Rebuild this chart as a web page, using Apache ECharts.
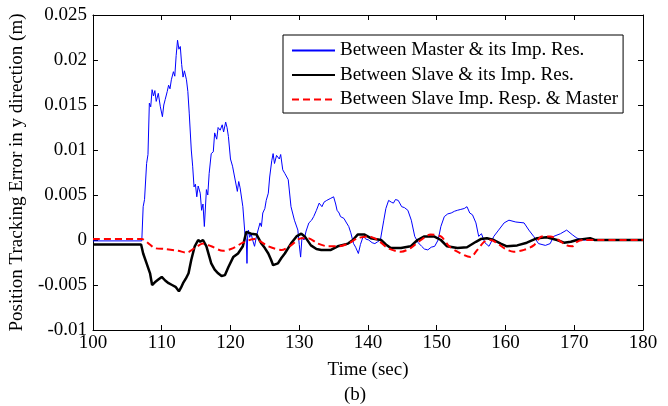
<!DOCTYPE html>
<html>
<head>
<meta charset="utf-8">
<script src="https://cdn.jsdelivr.net/npm/echarts@6/dist/echarts.min.js"></script>
<style>
html,body{margin:0;padding:0;background:#fff;}
#c{width:668px;height:406px;}
</style>
</head>
<body>
<div id="c"></div>
<script>
var xTicks = [100, 110, 120, 130, 140, 150, 160, 170, 180];
var yTicks = [-0.01, -0.005, 0, 0.005, 0.01, 0.015, 0.02, 0.025];
var seriesNames = ['Between Master & its Imp. Res.', 'Between Slave & its Imp. Res.', 'Between Slave Imp. Resp. & Master'];

var masterErr = [
[100,-0.0001],[107.1,-0.0001],[107.3,0.0037],[107.5,0.0045],[107.8,0.0085],[108.0,0.0095],[108.2,0.0152],[108.4,0.0148],[108.6,0.0167],[108.8,0.0160],[109.0,0.0166],[109.2,0.0154],[109.5,0.0163],[109.8,0.0148],[110.1,0.0137],[110.3,0.0150],[110.5,0.0156],[110.8,0.0165],[111.0,0.0172],[111.2,0.0168],[111.4,0.0178],[111.7,0.0187],[111.9,0.0182],[112.1,0.0205],[112.3,0.0222],[112.5,0.0212],[112.7,0.0215],[112.9,0.0195],[113.1,0.0181],[113.3,0.0188],[113.6,0.0178],[113.8,0.0165],[114.0,0.0141],[114.3,0.0100],[114.5,0.0082],[114.7,0.0059],[114.9,0.0062],[115.1,0.0048],[115.3,0.0060],[115.6,0.0052],[115.8,0.0033],[116.0,0.0040],[116.2,0.0015],[116.5,0.0056],[116.7,0.0050],[116.9,0.0074],[117.2,0.0096],[117.5,0.0098],[117.7,0.0119],[118.0,0.0112],[118.2,0.0125],[118.5,0.0122],[118.8,0.0128],[119.0,0.0120],[119.3,0.0131],[119.5,0.0125],[119.7,0.0115],[120.0,0.0090],[120.3,0.0082],[120.6,0.0070],[120.8,0.0068],[121.0,0.0054],[121.2,0.0065],[121.4,0.0058],[121.8,0.0037],[122.1,0.0007],[122.3,0.0000],[122.4,-0.0026],[122.5,0.0005],[122.6,0.0011],[122.8,0.0003],[123.0,0.0007],[123.3,-0.0002],[123.5,-0.0007],[123.8,0.0005],[124.3,0.0019],[124.5,0.0015],[124.7,0.0030],[125.0,0.0035],[125.2,0.0044],[125.5,0.0052],[125.7,0.0070],[126.0,0.0088],[126.2,0.0096],[126.4,0.0085],[126.7,0.0094],[126.9,0.0093],[127.1,0.0090],[127.3,0.0095],[127.6,0.0078],[127.9,0.0074],[128.4,0.0067],[128.8,0.0037],[129.3,0.0022],[129.8,0.0011],[130.0,-0.0005],[130.2,-0.0019],[130.4,0.0003],[130.7,0.0000],[131.0,0.0010],[131.4,0.0019],[131.8,0.0022],[132.1,0.0026],[132.5,0.0033],[132.9,0.0041],[133.3,0.0037],[133.6,0.0042],[134.0,0.0044],[134.5,0.0046],[135.0,0.0048],[135.3,0.0040],[135.5,0.0033],[135.8,0.0030],[136.0,0.0026],[136.5,0.0024],[136.8,0.0020],[137.2,0.0015],[137.5,0.0008],[137.9,-0.0004],[138.2,-0.0008],[138.6,-0.0015],[138.9,-0.0005],[139.3,0.0004],[139.7,0.0001],[140.1,0.0000],[140.6,-0.0003],[141.0,-0.0004],[141.4,-0.0002],[141.8,0.0000],[142.3,0.0022],[142.6,0.0035],[143.0,0.0044],[143.4,0.0042],[143.7,0.0041],[144.0,0.0045],[144.4,0.0044],[144.9,0.0037],[145.3,0.0036],[145.8,0.0033],[146.3,0.0022],[146.8,0.0004],[147.3,-0.0003],[147.8,-0.0007],[148.2,-0.0010],[148.7,-0.0011],[149.2,-0.0008],[149.7,-0.0007],[150.2,0.0000],[150.6,0.0015],[151.1,0.0026],[151.6,0.0029],[152.1,0.0030],[152.6,0.0032],[153.0,0.0033],[153.5,0.0034],[154.0,0.0035],[154.4,0.0037],[154.8,0.0030],[155.2,0.0028],[155.7,0.0019],[156.1,0.0004],[156.5,0.0007],[157.0,-0.0003],[157.6,-0.0007],[158.0,-0.0001],[158.3,0.0004],[159.0,0.0011],[159.8,0.0019],[160.5,0.0022],[161.5,0.0020],[162.7,0.0019],[163.4,0.0011],[164.1,0.0004],[164.8,-0.0004],[165.8,-0.0006],[166.5,-0.0004],[167.0,0.0004],[168.0,0.0007],[168.9,0.0011],[169.7,0.0006],[170.4,0.0002],[171.4,0.0000],[180,0.0000]
];

var slaveErr = [
[100,-0.0005],[107.0,-0.0005],[107.3,-0.0015],[107.8,-0.0026],[108.3,-0.0037],[108.6,-0.0050],[109.0,-0.0047],[109.5,-0.0044],[110.0,-0.0041],[110.5,-0.0045],[111.0,-0.0048],[111.5,-0.0050],[112.0,-0.0052],[112.5,-0.0057],[112.8,-0.0053],[113.1,-0.0048],[113.5,-0.0043],[113.9,-0.0037],[114.3,-0.0022],[114.8,-0.0007],[115.3,0.0000],[115.6,-0.0002],[116.0,0.0000],[116.5,-0.0007],[117.2,-0.0026],[117.7,-0.0033],[118.2,-0.0037],[118.7,-0.0040],[119.2,-0.0039],[119.7,-0.0030],[120.4,-0.0019],[121.1,-0.0015],[121.8,-0.0007],[122.3,0.0009],[123.0,0.0007],[123.8,0.0006],[124.5,-0.0004],[125.0,-0.0009],[125.5,-0.0015],[125.9,-0.0022],[126.2,-0.0028],[126.9,-0.0026],[127.4,-0.0020],[127.9,-0.0015],[128.8,-0.0004],[129.6,0.0004],[130.3,0.0007],[130.8,0.0004],[131.7,-0.0006],[132.5,-0.0010],[133.2,-0.0011],[134.6,-0.0011],[135.6,-0.0007],[137.1,-0.0004],[137.8,0.0000],[138.5,0.0006],[139.5,0.0006],[140.4,0.0002],[141.9,0.0000],[142.6,-0.0005],[143.3,-0.0009],[144.8,-0.0009],[146.2,-0.0007],[147.2,0.0000],[148.2,0.0004],[149.6,0.0004],[150.6,0.0000],[151.5,-0.0007],[153.0,-0.0009],[154.4,-0.0008],[155.7,-0.0002],[156.4,0.0001],[157.3,0.0002],[158.3,0.0000],[159.3,-0.0004],[160.2,-0.0007],[161.7,-0.0006],[163.1,-0.0003],[164.6,0.0002],[166.0,0.0003],[167.5,0.0000],[168.5,-0.0003],[169.5,-0.0002],[170.4,0.0000],[172.3,0.0002],[173.0,0.0000],[180,0.0000]
];

var slaveImpMaster = [
[100,0.0001],[107.1,0.0001],[108.1,-0.0004],[109.0,-0.0009],[110.5,-0.0010],[112.4,-0.0012],[113.6,-0.0014],[114.8,-0.0009],[116.0,-0.0004],[117.2,-0.0007],[118.9,-0.0012],[120.4,-0.0009],[121.8,-0.0003],[123.5,0.0001],[125.5,-0.0007],[127.4,-0.0011],[128.8,-0.0006],[130.3,0.0002],[131.3,0.0002],[132.7,-0.0004],[134.2,-0.0007],[135.7,-0.0007],[137.1,-0.0004],[138.5,0.0002],[140.0,0.0004],[141.4,0.0000],[142.9,-0.0009],[144.8,-0.0013],[146.2,-0.0009],[147.7,0.0000],[149.1,0.0006],[150.6,0.0004],[151.8,-0.0007],[153.0,-0.0013],[154.9,-0.0019],[155.9,-0.0011],[156.9,-0.0002],[157.8,0.0000],[158.7,-0.0003],[159.8,-0.0009],[161.2,-0.0013],[162.7,-0.0011],[164.1,-0.0006],[165.3,0.0004],[166.5,0.0004],[167.7,0.0000],[168.9,-0.0006],[169.7,-0.0007],[170.4,-0.0002],[171.4,0.0000],[180,0.0000]
];

var FONT = '"Liberation Serif", "Times New Roman", serif';
var FS = 19;
var chart = echarts.init(document.getElementById('c'), null, {renderer: 'canvas'});

function xAx(pos, showLabel, name) {
  return {
    type: 'value', position: pos,
    min: xTicks[0], max: xTicks[xTicks.length - 1], interval: xTicks[1] - xTicks[0],
    axisLine: {show: true, onZero: false, lineStyle: {color: '#000', width: 1}},
    axisTick: {show: true, inside: true, length: 5, lineStyle: {color: '#000'}},
    axisLabel: {show: showLabel, color: '#000', fontFamily: FONT, fontSize: FS, margin: 4},
    splitLine: {show: false},
    name: name, nameLocation: 'middle', nameGap: 31,
    nameTextStyle: {color: '#000', fontFamily: FONT, fontSize: FS}
  };
}
function yAx(pos, showLabel, name) {
  return {
    type: 'value', position: pos,
    min: yTicks[0], max: yTicks[yTicks.length - 1], interval: yTicks[1] - yTicks[0],
    axisLine: {show: true, onZero: false, lineStyle: {color: '#000', width: 1}},
    axisTick: {show: true, inside: true, length: 5, lineStyle: {color: '#000'}},
    axisLabel: {show: showLabel, color: '#000', fontFamily: FONT, fontSize: FS, margin: 6,
      formatter: function (v) { return String(+v.toFixed(3)); }},
    splitLine: {show: false},
    name: name, nameLocation: 'middle', nameGap: 56,
    nameTextStyle: {color: '#000', fontFamily: FONT, fontSize: FS}
  };
}

chart.setOption({
  animation: false,
  backgroundColor: '#fff',
  grid: {left: 91, right: 25, top: 15, bottom: 76, containLabel: false},
  xAxis: [xAx('bottom', true, 'Time (sec)'), xAx('top', false, '')],
  yAxis: [yAx('left', true, 'Position Tracking Error in y direction (m)'), yAx('right', false, '')],
  legend: {
    orient: 'vertical', left: 283, top: 35,
    padding: [6, 5, 4, 8], itemGap: 5.5, itemWidth: 43, itemHeight: 19,
    backgroundColor: '#fff', borderColor: '#000', borderWidth: 1, borderRadius: 0,
    itemStyle: {opacity: 0},
    textStyle: {color: '#000', fontFamily: FONT, fontSize: FS},
    data: seriesNames
  },
  graphic: [{
    type: 'text', left: 344, top: 386,
    style: {text: '(b)', fill: '#000', font: FS + 'px "Liberation Serif"'}
  }],
  series: [
    {name: seriesNames[0], type: 'line', data: masterErr, symbol: 'none',
     lineStyle: {color: '#0000ff', width: 1}, itemStyle: {color: '#0000ff'}},
    {name: seriesNames[1], type: 'line', data: slaveErr, symbol: 'none',
     lineStyle: {color: '#000', width: 2.5}, itemStyle: {color: '#000'}},
    {name: seriesNames[2], type: 'line', data: slaveImpMaster, symbol: 'none', smooth: 0.3,
     lineStyle: {color: '#ff0000', width: 2, type: [7, 4]}, itemStyle: {color: '#ff0000'}}
  ]
});
</script>
</body>
</html>
